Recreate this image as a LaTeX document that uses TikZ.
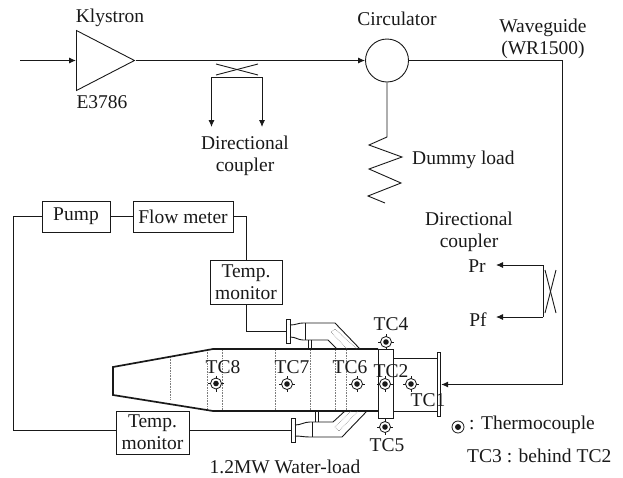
\documentclass[tikz,border=0pt]{standalone}
\usepackage{fontspec}
\setmainfont{Liberation Serif}
\usepackage{xcolor}
\usetikzlibrary{shapes.geometric,arrows.meta,positioning,calc}
\definecolor{InkK}{RGB}{25,25,25}
\definecolor{DotGray}{RGB}{125,125,125}
\tikzset{
  lbl/.style={font=\fontsize{19.5}{22}\selectfont,text=InkK,inner sep=0pt,align=center},
  wire/.style={draw=InkK,line width=0.9pt},
  sig/.style={wire,-{Latex[length=7pt,width=6pt]}},
  boxed/.style={lbl,draw=InkK,line width=0.9pt,minimum height=31pt},
  flange/.style={draw=InkK,line width=0.9pt,fill=white,inner sep=0pt,minimum width=3.5pt},
  hull/.style={draw=InkK,line width=1.7pt},
  baffle/.style={draw=DotGray,line width=0.6pt,densely dotted}
}
\begin{document}
\begin{tikzpicture}[x=1pt,y=-1pt]
\useasboundingbox (0,0) rectangle (623,477);
\node[isosceles triangle,isosceles triangle stretches,draw=InkK,line width=0.9pt,inner sep=0pt,
  minimum width=60pt,minimum height=58pt,anchor=lower side] (klystron) at (76,60.5) {};
\node[circle,draw=InkK,line width=0.9pt,inner sep=0pt,minimum size=43pt] (circ) at (387,60.5) {};
\coordinate (rfin) at (20,60.5);
\coordinate (wgturn) at (562,60.5);
\node[flange,minimum height=64pt] (wlflange) at (439,384.5) {};
\draw[sig] (rfin)--(klystron.lower side);
\draw[sig] (klystron.apex)--(circ.west);
\draw[sig] (circ.east)--(wgturn)--(wgturn|-wlflange.east)--(wlflange.east);
\node[lbl] (klylbl) at (110,18) {Klystron};
\node[lbl] (e3786) at (102,102) {E3786};
\node[lbl] (circlbl) at (397,19) {Circulator};
\node[lbl] (wglbl) at (543,38.5) {Waveguide\\(WR1500)};
\node[lbl] (dclbl) at (245,156) {Directional\\coupler};
\node[lbl] (dclblb) at (469,232) {Directional\\coupler};
\node[lbl,anchor=west] (dummylbl) at (412,160) {Dummy load};
\node[lbl] (prlbl) at (477,266) {Pr};
\node[lbl] (pflbl) at (478,320) {Pf};
\node[lbl] (wllbl) at (285,467) {1.2MW Water-load};
\node[lbl,anchor=west] (legtc) at (469,425) {: Thermocouple};
\node[lbl,anchor=west] (legbehind) at (467,456) {TC3 : behind TC2};
\draw[wire] (216,64)--(258,75);
\draw[wire] (216,75)--(258,64);
\coordinate (cplL) at (211.5,77);
\coordinate (cplR) at (262,77);
\draw[sig] (cplL)--(211.5,127);
\draw[sig] (cplR)--(262,127);
\draw[wire] (cplL)--(cplR);
\draw[wire] (circ.south)--(387,137)--(369,145)--(402,157)--(369,169)--(401,183)--(368,196)--(385,203);
\draw[wire] (545,270)--(556,313);
\draw[wire] (556,270)--(545,313);
\coordinate (cpuA) at (543,265);
\coordinate (cpuB) at (543,317);
\draw[wire] (cpuA)--(cpuB);
\draw[sig] (cpuA)--(496,265);
\draw[sig] (cpuB)--(496,317);
\node[boxed,minimum width=68pt] (pump) at (76,216.5) {Pump};
\node[boxed,minimum width=100pt] (flow) at (183,216.5) {Flow meter};
\node[boxed,minimum width=72pt,minimum height=44pt] (tempa) at (246,282) {Temp.\\monitor};
\node[boxed,minimum width=73pt,minimum height=43pt] (tempb) at (152.5,432.5) {Temp.\\monitor};
\node[flange,minimum height=24pt] (porta) at (288.5,331) {};
\node[flange,minimum height=24pt] (portb) at (293.5,430.5) {};
\coordinate (loopb) at (13,430.5);
\draw[wire] (pump.east)--(flow.west);
\draw[wire] (flow.east)-|(tempa.north);
\draw[wire] (tempa.south)|-(porta.west);
\draw[wire] (pump.west)-|(loopb)--(loopb-|tempb.west);
\draw[wire] (tempb.east|-portb.west)--(portb.west);
\foreach \x/\ya/\yb in {170/357/400,207/350/410,222/350/410,275/350/410,310/350/410,335/350/410,346/350/410}{
  \draw[baffle](\x,\ya)--(\x,\yb);
}
\draw[hull] (378,349)--(213,349)--(113,367)--(113,395)--(213,411)--(378,411);
\draw[wire] (378,349)rectangle(393,418);
\draw[wire] (393,358)--(437,358);
\draw[wire] (393,411)--(437,411);
\draw[wire] (290,325)..controls(296,325)and(298,323)..(303,323)--(335,323)--(360,349);
\draw[wire] (290,337)..controls(296,337)and(298,340)..(303,340)--(328,340)--(337,349);
\draw[wire] (305,323)--(305,340);
\draw[wire] (308,340)--(308,349);
\draw[wire] (311,340)--(311,349);
\draw[baffle] (347,349)--(331,332)--(335,329)--(357,349);
\draw[wire] (295,425)..controls(301,425)and(304,422)..(310,422)--(333,422)--(345,411);
\draw[wire] (295,436)..controls(301,436)and(304,437)..(310,437)--(342,437)--(367,411);
\draw[wire] (312,422)--(312,437);
\draw[wire] (315,411)--(315,422);
\draw[wire] (318,411)--(318,422);
\draw[baffle] (351,411)--(335,427)--(339,431)--(358,411);
\foreach \nm/\mx/\my/\lx/\ly in {
  8/216/383.5/223/367,
  7/287/384/292/367,
  6/357/384/350/367,
  2/385/384/391/371,
  1/411/384/428/400,
  4/386/342/391/324,
  5/385/427/387/445
}{
  \draw[InkK,line width=0.8pt](\mx,\my)circle(5.5pt);
  \fill[InkK](\mx,\my)circle(2.8pt);
  \draw[InkK,line width=0.7pt](\mx,\my-8)--(\mx,\my-5);
  \draw[InkK,line width=0.7pt](\mx,\my+5)--(\mx,\my+8);
  \draw[InkK,line width=0.7pt](\mx-8,\my)--(\mx-5,\my);
  \draw[InkK,line width=0.7pt](\mx+5,\my)--(\mx+8,\my);
  \node[lbl] (tc\nm) at (\lx,\ly) {TC\nm};
}
\draw[InkK,line width=0.8pt](458,427)circle(6pt);
\fill[InkK](458,427)circle(3pt);
\end{tikzpicture}
\end{document}
